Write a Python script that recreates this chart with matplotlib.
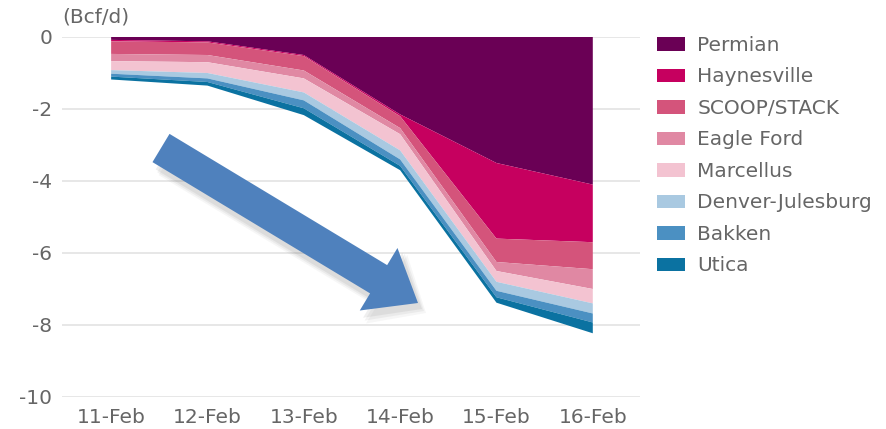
import matplotlib
matplotlib.use("Agg")
import matplotlib.pyplot as plt
from matplotlib.patches import Patch, FancyArrow
import numpy as np

dates = ["11-Feb", "12-Feb", "13-Feb", "14-Feb", "15-Feb", "16-Feb"]
basins = ["Permian", "Haynesville", "SCOOP/STACK", "Eagle Ford",
          "Marcellus", "Denver-Julesburg", "Bakken", "Utica"]

permian     = [-0.08, -0.12, -0.50, -2.15, -3.50, -4.10]
haynesville = [-0.04, -0.03, -0.03, -0.05, -2.10, -1.60]
scoop_stack = [-0.35, -0.35, -0.40, -0.33, -0.65, -0.75]
eagle_ford  = [-0.20, -0.20, -0.22, -0.17, -0.25, -0.55]
marcellus   = [-0.25, -0.30, -0.39, -0.45, -0.30, -0.40]
denver_jul  = [-0.10, -0.15, -0.22, -0.25, -0.25, -0.28]
bakken      = [-0.08, -0.10, -0.22, -0.18, -0.18, -0.25]
utica       = [-0.08, -0.10, -0.19, -0.12, -0.15, -0.30]

series = [permian, haynesville, scoop_stack, eagle_ford,
          marcellus, denver_jul, bakken, utica]
colors = ["#6a0055", "#c6005f", "#d4547b", "#e088a3",
          "#f3c3d1", "#a9c9e1", "#4b90c2", "#0b72a1"]

yticks = [0, -2, -4, -6, -8, -10]

text_color = "#666666"
fs = 14.5
plt.rcParams['font.family'] = ['DejaVu Sans']

fig = plt.figure(figsize=(8.87, 4.29), dpi=100)
ax = fig.add_axes([62/887, 1 - 397/429, (640 - 62)/887, (397 - 37)/429])

x = np.arange(len(dates))
ax.stackplot(x, *series, colors=colors, linewidth=0)

ax.set_xlim(-0.51, 5.49)
ax.set_ylim(-10, 0)
ax.set_yticks(yticks)
ax.set_yticklabels([str(v) for v in yticks])
ax.set_xticks(x)
ax.set_xticklabels(dates)
for s in ax.spines.values():
    s.set_visible(False)
ax.grid(axis='y', color="#e3e3e3", linewidth=1.2, zorder=0)
ax.set_axisbelow(True)
ax.tick_params(axis='both', length=0, labelsize=fs, labelcolor=text_color)
ax.tick_params(axis='y', pad=7)
ax.tick_params(axis='x', pad=8)
for c in ax.collections:
    c.set_clip_on(False)

fig.text(62/887, 1 - 17/429, "(Bcf/d)", fontsize=fs, color=text_color,
         ha='left', va='center')

handles = [Patch(facecolor=c, edgecolor='none') for c in colors]
fig.legend(handles, basins, loc='upper left',
           bbox_to_anchor=(657/887, 1 - 36/429), frameon=False,
           fontsize=fs, labelcolor=text_color, handlelength=1.4,
           handleheight=0.65, handletextpad=0.6, labelspacing=0.62,
           borderaxespad=0, borderpad=0)

# Overlay arrow annotation in pixel coordinates
ov = fig.add_axes([0, 0, 1, 1], facecolor='none')
ov.set_xlim(0, 887)
ov.set_ylim(429, 0)
ov.axis('off')
tail = np.array([161.0, 148.0])
tip = np.array([418.0, 303.0])
d = tip - tail
for k, (off, a) in enumerate([((8, 10), 0.05), ((6, 8), 0.07), ((4, 6), 0.09)]):
    ov.add_patch(FancyArrow(tail[0] + off[0], tail[1] + off[1], d[0], d[1],
                            width=34 + 6 - 2 * k, head_width=74 + 6 - 2 * k,
                            head_length=46, length_includes_head=True,
                            color="#555555", alpha=a, linewidth=0))
ov.add_patch(FancyArrow(tail[0], tail[1], d[0], d[1], width=33,
                        head_width=73, head_length=46,
                        length_includes_head=True, color="#4f81bd",
                        linewidth=0))

fig.savefig("out.png", dpi=100)
